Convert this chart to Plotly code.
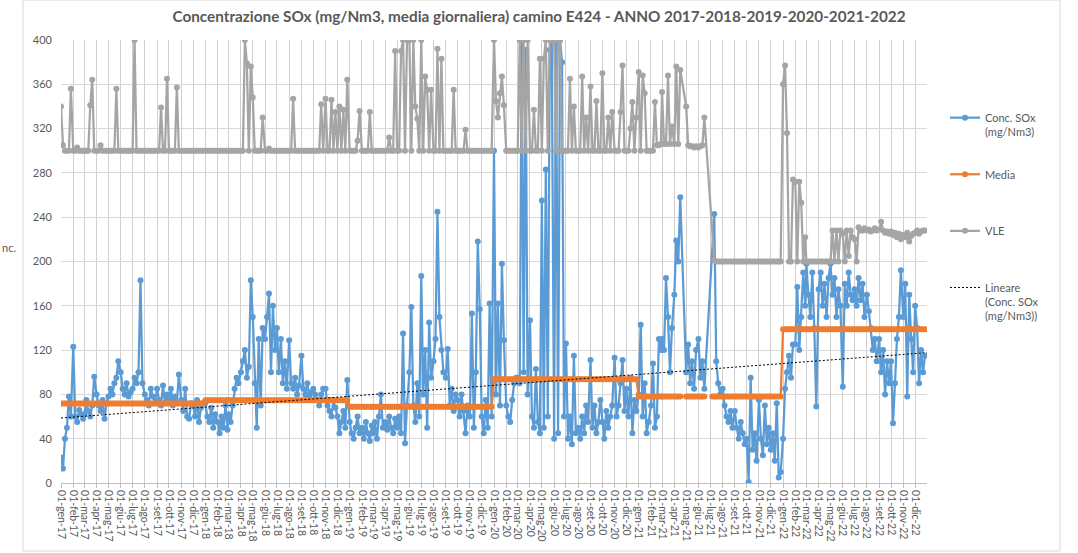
import plotly.graph_objects as go

# ---------------- data ----------------
years = [2017, 2018, 2019, 2020, 2021, 2022]
month_labels = ["gen", "feb", "mar", "apr", "mag", "giu",
                "lug", "ago", "set", "ott", "nov", "dic"]
sample_days = [1, 6, 11, 16, 21, 26]

conc_2017 = [23, 13, 40, 50, 78, 60,  123, 60, 55, 66, 62, 58,  62, 75, 65, 60, 70, 96,
             80, 70, 65, 75, 58, 72,  78, 85, 80, 90, 95, 110,  100, 85, 80, 90, 78, 82,
             85, 95, 90, 100, 183, 90,  80, 75, 70, 85, 78, 72,  85, 75, 70, 88, 72, 80,
             75, 85, 70, 78, 72, 98,  75, 65, 85, 60, 58, 72,  70, 60, 75, 55, 68, 72]
conc_2018 = [72, 60, 55, 68, 50, 62,  55, 45, 60, 50, 70, 48,  62, 55, 70, 85, 95, 90,
             100, 110, 120, 95, 105, 183,  150, 90, 50, 130, 70, 140,  130, 150, 171, 100, 160, 120,
             140, 100, 130, 90, 110, 85,  129, 90, 85, 95, 80, 88,  115, 85, 80, 90, 78, 82,
             85, 80, 75, 70, 80, 85,  85, 70, 65, 60, 75, 68,  60, 45, 55, 65, 50, 93]
conc_2019 = [55, 45, 40, 50, 60, 45,  50, 40, 55, 45, 38, 52,  45, 55, 40, 60, 80, 50,
             55, 48, 60, 50, 45, 58,  50, 60, 45, 135, 36, 70,  100, 159, 70, 55, 90, 60,
             187, 80, 120, 50, 145, 95,  110, 130, 245, 150, 120, 100,  95, 121, 70, 85, 65, 80,
             75, 60, 80, 65, 45, 70,  60, 153, 50, 100, 218, 157,  60, 45, 75, 50, 162, 60]
conc_2020 = [300, 80, 162, 70, 198, 129,  70, 60, 55, 75, 90, 95,  95, 90, 400, 100, 391, 80,
             147, 60, 50, 103, 55, 45,  255, 50, 283, 60, 391, 400,  40, 400, 45, 400, 380, 60,
             126, 40, 60, 35, 115, 45,  50, 40, 60, 45, 70, 55,  111, 50, 70, 45, 55, 75,
             55, 40, 65, 50, 60, 70,  113, 60, 70, 90, 111, 65,  85, 60, 95, 45, 75, 65]
conc_2021 = [80, 143, 60, 90, 45, 55,  70, 108, 50, 60, 130, 120,  130, 120, 185, 150, 100, 140,
             170, 219, 200, 258, None, None,  100, 125, 90, 110, 85, 120,  130, 95, 110, 85, None, None,
             None, None, 243, 110, 90, 80,  85, 70, 60, 55, 65, 50,  65, 50, 40, 55, 45, 35,
             40, 1, 95, 30, 45, 20,  75, 40, 25, 70, 35, 50,  30, 45, 20, 72, 5, 10]
conc_2022 = [40, 85, 100, 115, 95, 125,  125, 177, 120, 150, 190, 160,  198, 170, 150, 190, 140, 69,
             175, 190, 160, 180, 150, 185,  198, 170, 185, 150, 175, 160,  87, 180, 160, 190, 170, 165,
             175, 160, 185, 165, 180, 150,  170, 155, 140, 120, 130, 110,  130, 100, 120, 80, 110, 90,
             110, 54, 90, 130, 150, 192,  150, 180, 78, 170, 130, 100,  160, 140, 90, 120, 100, 115]

vle_2017 = [340, 305, 300, 300, 300, 356,  300, 300, 303, 300, 300, 300,  300, 300, 300, 341, 364, 300,
            300, 300, 305, 300, 300, 300,  300, 300, 300, 300, 356, 300,  300, 300, 300, 300, 300, 300,
            300, 400, 300, 300, 300, 300,  300, 300, 300, 300, 300, 300,  300, 300, 339, 300, 300, 365,
            300, 300, 300, 300, 357, 300,  300, 300, 300, 300, 300, 300,  300, 300, 300, 300, 300, 300]
vle_2018 = [300, 300, 300, 300, 300, 300,  300, 300, 300, 300, 300, 300,  300, 300, 300, 300, 300, 300,
            300, 300, 400, 379, 300, 376,  348, 300, 300, 300, 300, 330,  300, 300, 302, 300, 300, 300,
            300, 300, 300, 300, 300, 300,  300, 300, 347, 300, 300, 300,  300, 300, 300, 300, 300, 300,
            300, 300, 300, 300, 342, 300,  347, 300, 300, 346, 300, 335,  300, 340, 300, 337, 300, 364]
vle_2019 = [300, 300, 300, 300, 309, 336,  300, 300, 300, 300, 335, 300,  300, 300, 300, 300, 300, 300,
            300, 300, 312, 300, 300, 390,  300, 300, 390, 400, 300, 400,  400, 300, 400, 340, 329, 300,
            400, 300, 367, 355, 300, 355,  300, 300, 392, 300, 383, 300,  300, 300, 300, 300, 355, 300,
            300, 300, 300, 300, 319, 300,  300, 300, 300, 300, 300, 300,  300, 300, 300, 300, 300, 300]
vle_2020 = [400, 345, 330, 352, 367, 341,  300, 300, 300, 300, 300, 300,  300, 400, 300, 400, 300, 400,
            300, 300, 337, 300, 300, 383,  300, 383, 400, 300, 400, 400,  400, 300, 400, 400, 300, 300,
            300, 300, 365, 300, 340, 300,  300, 300, 367, 300, 330, 300,  358, 300, 300, 345, 300, 300,
            370, 300, 300, 330, 300, 335,  300, 300, 300, 335, 377, 300,  300, 300, 320, 344, 300, 330]
vle_2021 = [371, 300, 368, 352, 300, 300,  300, 300, 344, 305, 305, 306,  353, 306, 306, 368, 306, 322,
            306, 376, 306, 373, None, None,  340, 305, 304, 304, 303, 304,  303, 304, 305, 330, None, None,
            None, None, 201, 200, 200, 200,  200, 200, 200, 200, 200, 200,  200, 200, 200, 200, 200, 200,
            200, 200, 200, 200, 200, 200,  200, 200, 200, 200, 200, 200,  200, 200, 200, 200, 200, 200]
vle_2022 = [360, 377, 316, 200, 200, 274,  272, 200, 272, 253, 200, 222,  200, 200, 200, 200, 200, 200,
            200, 200, 200, 200, 200, 200,  200, 228, 200, 228, 200, 228,  225, 200, 228, 205, 228, 222,
            220, 200, 231, 228, 228, 230,  228, 229, 227, 228, 230, 228,  229, 236, 228, 226, 227, 225,
            227, 224, 226, 222, 225, 220,  224, 222, 226, 218, 223, 225,  226, 228, 225, 227, 228, 228]

media_values = [71.7, 74.7, 68.8, 93.6, 78.0, 138.8]
media_missing = ["2021-04-21", "2021-04-26", "2021-06-21", "2021-06-26", "2021-07-01"]

trend_dates = ["2017-01-01", "2022-12-31"]
trend_values = [58.7, 117.7]

# ---------------- build series ----------------
dates = []
media_series = []
for yi, yr in enumerate(years):
    for m in range(12):
        for d in sample_days:
            ds = f"{yr}-{m + 1:02d}-{d:02d}"
            dates.append(ds)
            media_series.append(None if ds in media_missing else media_values[yi])

conc = conc_2017 + conc_2018 + conc_2019 + conc_2020 + conc_2021 + conc_2022
vle = vle_2017 + vle_2018 + vle_2019 + vle_2020 + vle_2021 + vle_2022

tick_vals = [f"{yr}-{m + 1:02d}-01" for yr in years for m in range(12)]
tick_text = [f"01-{month_labels[m]}-{str(yr)[2:]}" for yr in years for m in range(12)]

BLUE = "#5B9BD5"
ORANGE = "#ED7D31"
GREY = "#A5A5A5"
TXT = "#595959"
FONT = "Lato"

fig = go.Figure()
fig.add_trace(go.Scatter(
    x=dates, y=conc, name="Conc. SOx<br>(mg/Nm3)", mode="lines+markers",
    connectgaps=True, line=dict(color=BLUE, width=2.25), marker=dict(color=BLUE, size=6),
    legendgroup="g1"))
fig.add_trace(go.Scatter(
    x=dates, y=media_series, name="Media<br>\u00a0", mode="lines+markers",
    connectgaps=False, line=dict(color=ORANGE, width=2.25), marker=dict(color=ORANGE, size=6),
    legendgroup="g2"))
fig.add_trace(go.Scatter(
    x=dates, y=vle, name="VLE<br>\u00a0", mode="lines+markers",
    connectgaps=True, line=dict(color=GREY, width=2.25), marker=dict(color=GREY, size=6),
    legendgroup="g3"))
fig.add_trace(go.Scatter(
    x=trend_dates, y=trend_values, name="Lineare<br>(Conc. SOx<br>(mg/Nm3))", mode="lines",
    line=dict(color="#000000", width=1, dash="2px,2px"), legendgroup="g4"))

fig.update_layout(
    width=1078, height=553, autosize=False,
    margin=dict(l=61, r=151, t=40, b=70, autoexpand=False),
    paper_bgcolor="white", plot_bgcolor="white",
    font=dict(family=FONT, size=11, color=TXT),
    title=dict(text="<b>Concentrazione SOx (mg/Nm3, media giornaliera) camino E424 - ANNO 2017-2018-2019-2020-2021-2022</b>",
               x=0.5, xref="container", xanchor="center", y=1 - 17 / 553, yref="container", yanchor="middle",
               font=dict(family=FONT, size=15.3, color=TXT)),
    legend=dict(x=(945 - 61) / 866, xanchor="left", y=(483 - 104) / 443, yanchor="top",
                traceorder="grouped", tracegroupgap=25, valign="top",
                font=dict(family=FONT, size=11, color=TXT), bgcolor="rgba(0,0,0,0)"),
    showlegend=True,
)
fig.update_xaxes(type="date", range=["2017-01-01", "2022-12-31"], automargin=False,
                 tickmode="array", tickvals=tick_vals, ticktext=tick_text, tickangle=90,
                 showgrid=True, gridcolor="#CFCFCF", gridwidth=1,
                 showline=True, linecolor="#BFBFBF", ticks="outside", ticklen=4, tickcolor="#BFBFBF",
                 tickfont=dict(family=FONT, size=10.5, color=TXT))
fig.update_yaxes(range=[0, 400], tickmode="array", tickvals=list(range(0, 401, 40)), automargin=False,
                 showgrid=True, gridcolor="#D9D9D9", zeroline=False, showline=False,
                 ticklabelstandoff=8,
                 tickfont=dict(family=FONT, size=11, color=TXT))

fig.add_annotation(text="nc.", xref="paper", yref="paper", x=(0 - 61) / 866, y=(483 - 247) / 443,
                   xanchor="left", yanchor="middle", showarrow=False,
                   font=dict(family=FONT, size=11, color=TXT))
fig.add_shape(type="rect", xref="paper", yref="paper",
              x0=(23 - 61) / 866, x1=(1060 - 61) / 866, y0=(483 - 551) / 443, y1=(483 - 0) / 443,
              line=dict(color="#D9D9D9", width=1), fillcolor="rgba(0,0,0,0)", layer="below")

fig.write_html("out.html", config={"displayModeBar": False},
               post_script="document.body.style.margin='0px';")
